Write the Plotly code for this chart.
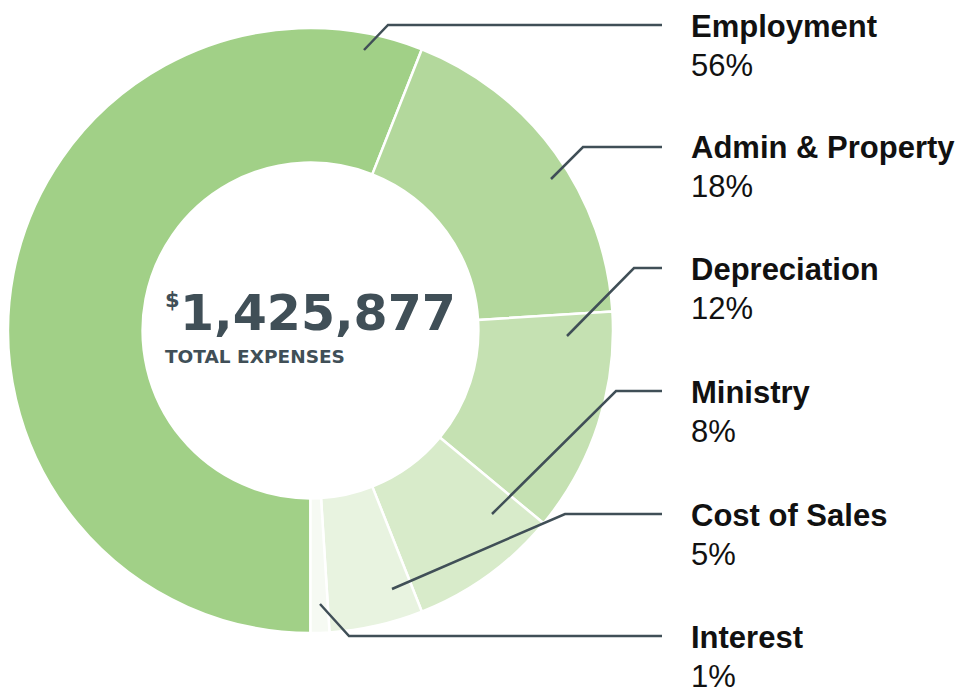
import plotly.graph_objects as go

# ---- data ----
categories = ["Employment", "Admin & Property", "Depreciation", "Ministry", "Cost of Sales", "Interest"]
percents = [56, 18, 12, 8, 5, 1]
pct_labels = ["56%", "18%", "12%", "8%", "5%", "1%"]
total_label = "1,425,877"
total_caption = "TOTAL EXPENSES"

# ---- style ----
colors = ["#a1d087", "#b3d89c", "#c5e1b2", "#d8ebca", "#e8f3e0", "#f6faf3"]
VIEW_W, VIEW_H = 965, 687
OFF = 8  # page body margin
W, H = VIEW_W - OFF, VIEW_H - OFF
LINE_COLOR = "#404f57"
TEXT_COLOR = "#111111"

# leader line geometry (window pixels): start point, elbow point; horizontal runs to x_end
leader_start = [(364, 50), (551, 179), (567, 336), (492, 514), (392, 589), (320, 604)]
leader_elbow = [(388, 25), (583, 147), (634, 268), (616, 391), (565, 514), (349, 636)]
x_end = 662
label_x = 690


def px(x):
    return (x - OFF) / W


def py(y):
    return 1 - (y - OFF) / H


fig = go.Figure()
fig.add_trace(go.Pie(
    labels=categories,
    values=percents,
    sort=False,
    direction="clockwise",
    rotation=180,
    hole=0.555,
    textinfo="none",
    marker=dict(colors=colors, line=dict(color="white", width=2.5)),
    domain=dict(x=[px(8), px(613)], y=[py(633), py(28)]),
    showlegend=False,
))

shapes = []
annotations = []
for i, cat in enumerate(categories):
    (x0, y0), (x1, y1) = leader_start[i], leader_elbow[i]
    shapes.append(dict(
        type="path", xref="paper", yref="paper",
        path=f"M {px(x0)},{py(y0)} L {px(x1)},{py(y1)} L {px(x_end)},{py(y1)}",
        line=dict(color=LINE_COLOR, width=2.5),
    ))
    annotations.append(dict(
        x=px(label_x - 1), y=py(y1 + 1), xref="paper", yref="paper",
        xanchor="left", yanchor="middle", showarrow=False,
        text=f"<b>{cat}</b>",
        font=dict(family="Liberation Sans", size=31, color=TEXT_COLOR),
    ))
    annotations.append(dict(
        x=px(label_x - 1), y=py(y1 + 40), xref="paper", yref="paper",
        xanchor="left", yanchor="middle", showarrow=False,
        text=pct_labels[i],
        font=dict(family="Liberation Sans", size=31, color=TEXT_COLOR),
    ))

# centre text
annotations.append(dict(
    x=px(318), y=py(313), xref="paper", yref="paper",
    xanchor="center", yanchor="middle", showarrow=False,
    text=f"<b>{total_label}</b>",
    font=dict(family="DejaVu Sans", size=49, color=LINE_COLOR),
))
annotations.append(dict(
    x=px(163), y=py(300), xref="paper", yref="paper",
    xanchor="left", yanchor="middle", showarrow=False,
    text="<b>$</b>",
    font=dict(family="DejaVu Sans", size=21, color=LINE_COLOR),
))
annotations.append(dict(
    x=px(163), y=py(357), xref="paper", yref="paper",
    xanchor="left", yanchor="middle", showarrow=False,
    text=f"<b>{total_caption}</b>",
    font=dict(family="DejaVu Sans", size=18.5, color=LINE_COLOR),
))

fig.update_layout(
    width=W, height=H,
    margin=dict(l=0, r=0, t=0, b=0),
    paper_bgcolor="white", plot_bgcolor="white",
    shapes=shapes, annotations=annotations,
)

fig.write_html("out.html")
